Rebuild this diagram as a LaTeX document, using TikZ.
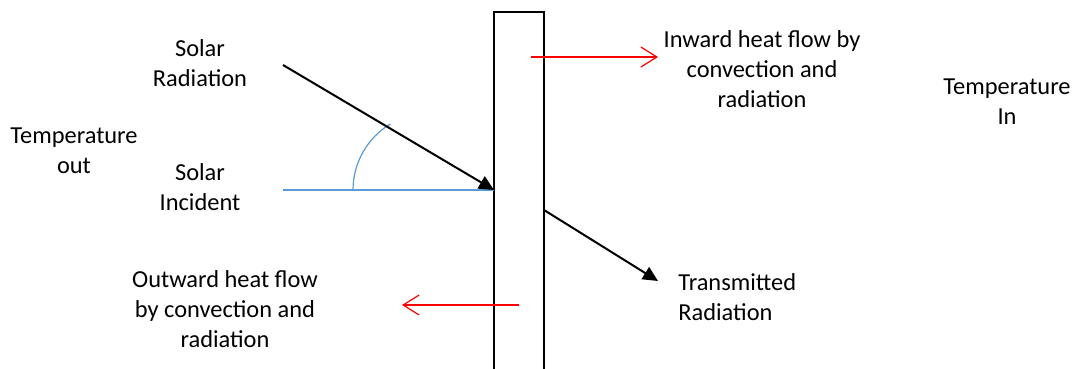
\documentclass[tikz,border=0pt]{standalone}
\usepackage{fontspec}
\setmainfont{Carlito}
\usetikzlibrary{arrows.meta,positioning}
\definecolor{wordblue}{RGB}{91,155,213}

\begin{document}
\begin{tikzpicture}[x=0.5pt, y=-0.5pt,
    label/.style={font=\fontsize{12.2}{15}\selectfont, align=center, inner sep=0pt},
    ray/.style={line width=1pt, -{Triangle[length=7.5pt,width=7pt]}},
    heat/.style={red, line width=0.6pt, -{Straight Barb[length=8pt,width=10pt]}}]
    \useasboundingbox (0,0) rectangle (1077,369);
    % wall
    \draw[line width=0.7pt] (494,380) -- (494,12) -- (544,12) -- (544,380);
    \coordinate (hit) at (494,190);
    \coordinate (sunstart) at (283,65);
    \coordinate (incstart) at (283,190);
    \coordinate (transstart) at (544,210);
    \coordinate (transend) at (658,281);
    \coordinate (instart) at (531,57);
    \coordinate (inend) at (658,57);
    \coordinate (outstart) at (519,305);
    \coordinate (outend) at (402,305);

    % labels
    \node[label] (solarrad) at (200,63) {Solar\\Radiation};
    \node[label] (tempout) at (74,151) {Temperature\\out};
    \node[label] (solarinc) at (200,187) {Solar\\Incident};
    \node[label] (inward) at (762,69) {Inward heat flow by\\convection and\\radiation};
    \node[label] (tempin) at (1007,102) {Temperature\\In};
    \node[label] (outward) at (225,309) {Outward heat flow\\by convection and\\radiation};
    \node[label, align=left, anchor=west] (transmitted) at (678,297) {Transmitted\\Radiation};

    % incident ray and angle
    \draw[wordblue, line width=0.6pt] (incstart) -- (hit);
    \draw[wordblue, line width=0.6pt] (353,190) arc[start angle=180, end angle=239, radius=77];
    \draw[ray] (sunstart) -- (hit);
    \draw[ray] (transstart) -- (transend);

    % heat flows
    \draw[heat] (instart) -- (inend);
    \draw[heat] (outstart) -- (outend);
\end{tikzpicture}
\end{document}
